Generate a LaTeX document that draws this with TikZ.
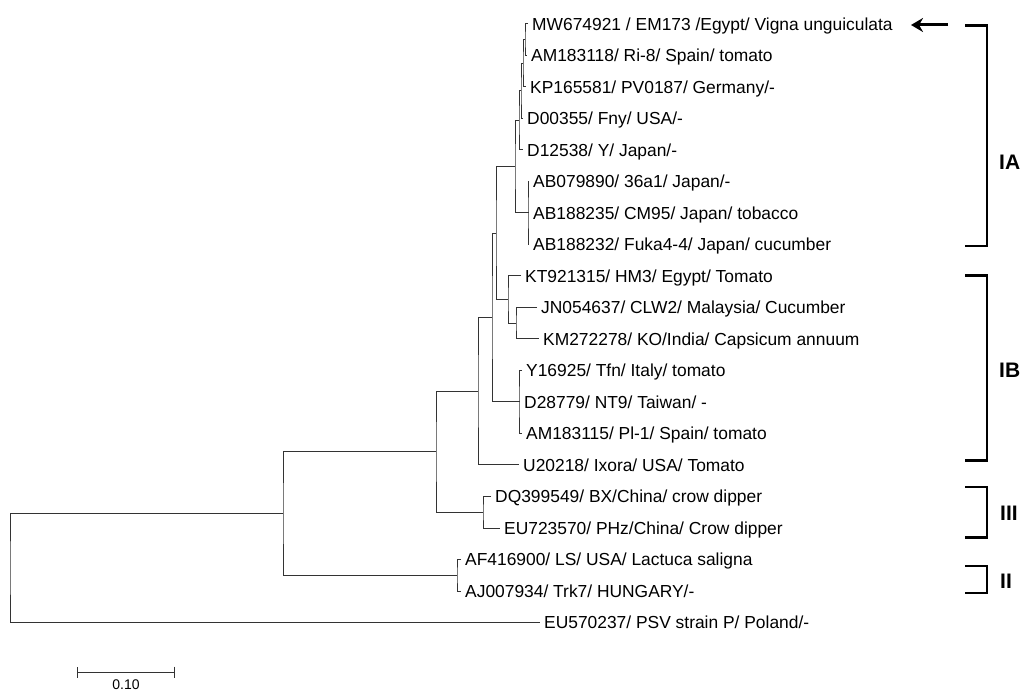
\documentclass[tikz,border=0pt]{standalone}
\usepackage{fontspec}
\setmainfont{Liberation Sans}
\usetikzlibrary{arrows.meta}

\begin{document}
\begin{tikzpicture}[
  x=1pt, y=-1pt,
  font=\fontsize{17.4}{20}\selectfont,
  branch/.style={line width=1pt, draw=black!80},
  leaf/.style={anchor=west, inner xsep=4pt, inner ysep=0pt, text height=12.4pt, text depth=0pt},
  bracket/.style={line width=2.4pt, black},
  clade/.style={anchor=west, inner sep=0pt, text height=15pt, text depth=0pt,
    font=\fontsize{21}{24}\selectfont\bfseries},
  pointer/.style={-{Stealth[length=12pt, width=14pt]}, line width=3pt},
  scalebar/.style={{Bar[width=11pt]}-{Bar[width=11pt]}, line width=1pt, black!80},
]
\useasboundingbox (0,0) rectangle (1026,692);

% --- Hojas: una fila cada 31.5 ---
\node[leaf] (mw674921) at (528,24)    {MW674921 / EM173 /Egypt/ Vigna unguiculata};
\node[leaf] (am183118) at (527,55.5)  {AM183118/ Ri-8/ Spain/ tomato};
\node[leaf] (kp165581) at (526,87)    {KP165581/ PV0187/ Germany/-};
\node[leaf] (d00355)   at (523,118.5) {D00355/ Fny/ USA/-};
\node[leaf] (d12538)   at (523,150)   {D12538/ Y/ Japan/-};
\node[leaf] (ab079890) at (529,181.5) {AB079890/ 36a1/ Japan/-};
\node[leaf] (ab188235) at (529,213)   {AB188235/ CM95/ Japan/ tobacco};
\node[leaf] (ab188232) at (529,244.5) {AB188232/ Fuka4-4/ Japan/ cucumber};
\node[leaf] (kt921315) at (521,276)   {KT921315/ HM3/ Egypt/ Tomato};
\node[leaf] (jn054637) at (537,307.5) {JN054637/ CLW2/ Malaysia/ Cucumber};
\node[leaf] (km272278) at (539,339)   {KM272278/ KO/India/ Capsicum annuum};
\node[leaf] (y16925)   at (522,370.5) {Y16925/ Tfn/ Italy/ tomato};
\node[leaf] (d28779)   at (520,402)   {D28779/ NT9/ Taiwan/ -};
\node[leaf] (am183115) at (522,433.5) {AM183115/ Pl-1/ Spain/ tomato};
\node[leaf] (u20218)   at (519,465)   {U20218/ Ixora/ USA/ Tomato};
\node[leaf] (dq399549) at (491,496.5) {DQ399549/ BX/China/ crow dipper};
\node[leaf] (eu723570) at (500,528)   {EU723570/ PHz/China/ Crow dipper};
\node[leaf] (af416900) at (461,559.5) {AF416900/ LS/ USA/ Lactuca saligna};
\node[leaf] (aj007934) at (461,591)   {AJ007934/ Trk7/ HUNGARY/-};
\node[leaf] (eu570237) at (540,622.5) {EU570237/ PSV strain P/ Poland/-};

% --- Nodos internos ---
\coordinate (n1)   at (525,39.75);
\coordinate (n2)   at (523,63.4);
\coordinate (n3)   at (521,91);
\coordinate (n4)   at (519,120.5);
\coordinate (nab)  at (528,213);
\coordinate (n5)   at (515,166.7);
\coordinate (njk)  at (516,323.25);
\coordinate (nkt)  at (508,299.6);
\coordinate (n6)   at (496,233.2);
\coordinate (ny)   at (519,402);
\coordinate (n7)   at (492,317.6);
\coordinate (ni)   at (478,391.3);
\coordinate (niii) at (483,512.25);
\coordinate (ni3)  at (436,451.8);
\coordinate (nii)  at (457,575.25);
\coordinate (na)   at (283,513.5);
\coordinate (root) at (10,568);

% --- Ramas ---
\draw[branch] (mw674921.west) -| (n1) |- (am183118.west);
\draw[branch] (n1) -| (n2) |- (kp165581.west);
\draw[branch] (n2) -| (n3) |- (d00355.west);
\draw[branch] (n3) -| (n4) |- (d12538.west);
\draw[branch] (ab079890.west) -| (nab) |- (ab188232.west);
\draw[branch] (nab) -- (ab188235.west);
\draw[branch] (n4) -| (n5) |- (nab);
\draw[branch] (jn054637.west) -| (njk) |- (km272278.west);
\draw[branch] (kt921315.west) -| (nkt) |- (njk);
\draw[branch] (n5) -| (n6) |- (nkt);
\draw[branch] (y16925.west) -| (ny) |- (am183115.west);
\draw[branch] (ny) -- (d28779.west);
\draw[branch] (n6) -| (n7) |- (ny);
\draw[branch] (n7) -| (ni) |- (u20218.west);
\draw[branch] (dq399549.west) -| (niii) |- (eu723570.west);
\draw[branch] (ni) -| (ni3) |- (niii);
\draw[branch] (af416900.west) -| (nii) |- (aj007934.west);
\draw[branch] (ni3) -| (na) |- (nii);
\draw[branch] (na) -| (root) |- (eu570237.west);

% --- Flecha a la secuencia nueva ---
\coordinate (pointer-start) at (948,25);
\coordinate (pointer-end) at (911,25);
\draw[pointer] (pointer-start) -- (pointer-end);

% --- Grupos ---
\draw[bracket] (965,25.5) -| (987,246) -- (965,246);
\draw[bracket] (965,275.7) -| (987,460.7) -- (965,460.7);
\draw[bracket] (965,487.3) -| (987,537.3) -- (965,537.3);
\draw[bracket] (965,566) -| (987,592.7) -- (965,592.7);
\node[clade] (ia)  at (999,162) {IA};
\node[clade] (ib)  at (999,370) {IB};
\node[clade] (iii) at (1000,513) {III};
\node[clade] (ii)  at (1000,581) {II};

% --- Escala ---
\coordinate (scale-left) at (77,672);
\coordinate (scale-right) at (175,672);
\draw[scalebar] (scale-left) -- (scale-right);
\node[inner sep=0pt, text height=10pt, text depth=0pt, font=\fontsize{14}{16}\selectfont]
  (scale-label) at (126,684.5) {0.10};

\end{tikzpicture}
\end{document}
